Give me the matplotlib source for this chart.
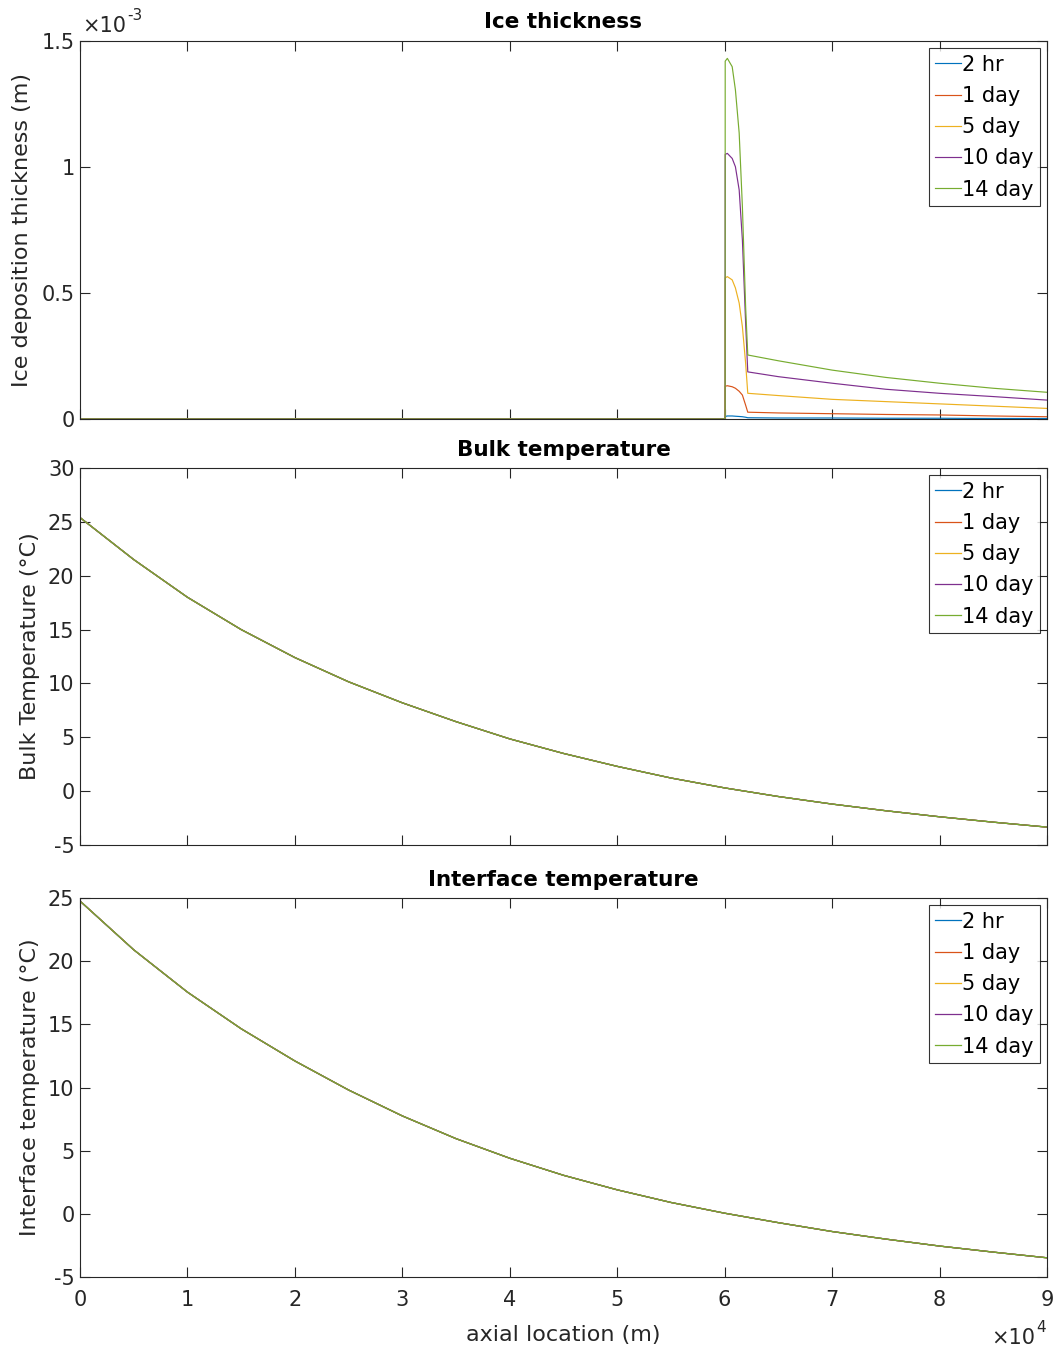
import matplotlib.pyplot as plt

# series labels / MATLAB default colours
labels = ["2 hr", "1 day", "5 day", "10 day", "14 day"]
colors = ["#0072BD", "#D95319", "#EDB120", "#7E2F8E", "#77AC30"]

# ice thickness (values in units of 1e-3 m)
x_ice = [0, 60040, 60050, 60250, 60700, 61000, 61350, 61650, 61950, 62150,
         65000, 70000, 75000, 80000, 85000, 90000]
ice_2hr = [0, 0, 0.010, 0.012, 0.012, 0.011, 0.010, 0.009, 0.007, 0.005,
           0.004, 0.004, 0.003, 0.003, 0.002, 0.002]
ice_1day = [0, 0, 0.130, 0.132, 0.128, 0.122, 0.110, 0.095, 0.055, 0.027,
            0.024, 0.021, 0.018, 0.016, 0.012, 0.009]
ice_5day = [0, 0, 0.560, 0.565, 0.552, 0.520, 0.460, 0.366, 0.222, 0.102,
            0.093, 0.078, 0.069, 0.060, 0.051, 0.042]
ice_10day = [0, 0, 1.050, 1.054, 1.034, 1.001, 0.909, 0.710, 0.381, 0.187,
             0.168, 0.142, 0.118, 0.102, 0.089, 0.075]
ice_14day = [0, 0, 1.420, 1.431, 1.398, 1.306, 1.135, 0.842, 0.446, 0.254,
             0.231, 0.194, 0.165, 0.142, 0.122, 0.106]
ice_all = [ice_2hr, ice_1day, ice_5day, ice_10day, ice_14day]

# temperatures along the pipe (all five times overlap)
x_T = [0, 5000, 10000, 15000, 20000, 25000, 30000, 35000, 40000, 45000,
       50000, 55000, 60000, 65000, 70000, 75000, 80000, 85000, 90000]
T_bulk = [25.4, 21.5, 18.0, 15.0, 12.4, 10.15, 8.2, 6.45, 4.85, 3.5,
          2.3, 1.22, 0.3, -0.5, -1.2, -1.82, -2.38, -2.88, -3.34]
T_int = [24.76, 20.9, 17.55, 14.65, 12.1, 9.8, 7.75, 5.95, 4.4, 3.05,
         1.9, 0.9, 0.05, -0.7, -1.4, -2.0, -2.55, -3.03, -3.48]

plt.rcParams['font.family'] = 'DejaVu Sans'
axcol = '#262626'

fig = plt.figure(figsize=(10.57, 13.52), dpi=100)
L, W = 80/1057, 967/1057
ax1 = fig.add_axes([L, 1 - 419/1352, W, 378/1352])
ax2 = fig.add_axes([L, 1 - 845/1352, W, 377/1352])
ax3 = fig.add_axes([L, 1 - 1277/1352, W, 379/1352])

for lab, c, y in zip(labels, colors, ice_all):
    ax1.plot(x_ice, y, color=c, lw=0.85, label=lab)
for lab, c in zip(labels, colors):
    ax2.plot(x_T, T_bulk, color=c, lw=0.9, label=lab)
    ax3.plot(x_T, T_int, color=c, lw=0.9, label=lab)

ax1.set_ylim(0, 1.5)
ax1.set_yticks([0, 0.5, 1, 1.5], ["0", "0.5", "1", "1.5"])
ax2.set_ylim(-5, 30)
ax2.set_yticks(range(-5, 31, 5), [str(v) for v in range(-5, 31, 5)])
ax3.set_ylim(-5, 25)
ax3.set_yticks(range(-5, 26, 5), [str(v) for v in range(-5, 26, 5)])

titles = ["Ice thickness", "Bulk temperature", "Interface temperature"]
ylabels = ["Ice deposition thickness (m)", "Bulk Temperature (\u00b0C)",
           "Interface temperature (\u00b0C)"]
lab_x = [-0.050, -0.041, -0.041]
for ax, t, yl, lx in zip([ax1, ax2, ax3], titles, ylabels, lab_x):
    ax.set_xlim(0, 90000)
    ax.set_xticks(range(0, 90001, 10000))
    ax.set_title(t, fontsize=15.5, fontweight='bold', pad=9, color='black')
    ax.set_ylabel(yl, fontsize=16, color=axcol)
    ax.yaxis.set_label_coords(lx, 0.5)
    ax.tick_params(direction='in', length=7, width=0.8, top=True, right=True,
                   labelsize=15, colors=axcol, pad=4)
    for s in ax.spines.values():
        s.set_color(axcol)
        s.set_linewidth(0.8)
    leg = ax.legend(loc='upper right', fontsize=15, frameon=True, fancybox=False,
                    edgecolor='black', handlelength=1.25, handletextpad=0.05,
                    borderpad=0.3, labelspacing=0.54, borderaxespad=0.35)
    leg.get_frame().set_linewidth(0.8)

ax1.tick_params(labelbottom=False)
ax2.tick_params(labelbottom=False)
ax3.set_xticklabels([str(i) for i in range(10)])
ax3.tick_params(axis='x', pad=9)
ax3.set_xlabel("axial location (m)", fontsize=16, color=axcol, labelpad=11)

# exponent labels as MATLAB draws them
fig.text(82/1057, 1 - 26/1352, "\u00d710", fontsize=15, color=axcol, va='center')
fig.text(127/1057, 1 - 16/1352, "-3", fontsize=11, color=axcol, va='center')
fig.text(991/1057, 1 - 1338/1352, "\u00d710", fontsize=15, color=axcol, va='center')
fig.text(1036/1057, 1 - 1327/1352, "4", fontsize=11, color=axcol, va='center')

fig.savefig("out.png", dpi=100)
